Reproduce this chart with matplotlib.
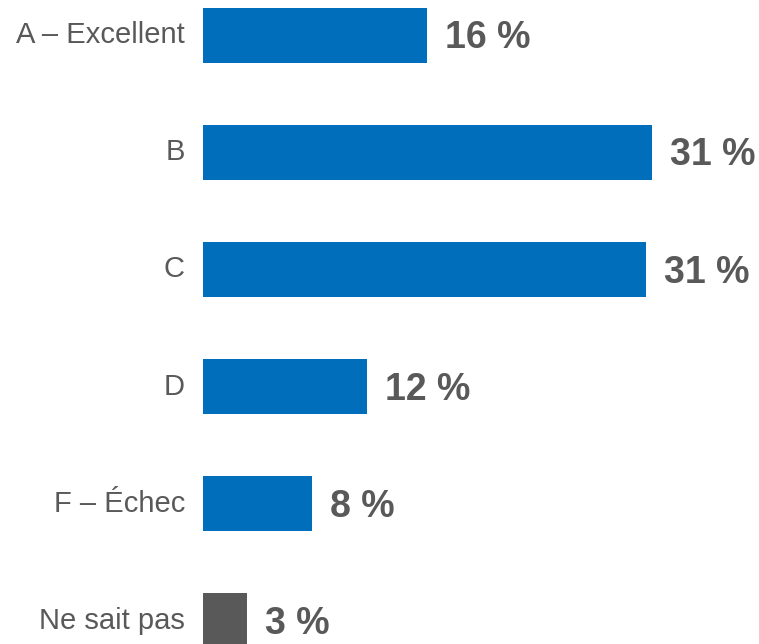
import matplotlib.pyplot as plt

plt.rcParams['font.family'] = ['Liberation Sans', 'DejaVu Sans']

categories = ['A – Excellent', 'B', 'C', 'D', 'F – Échec', 'Ne sait pas']
values = [15.7, 31.4, 31.0, 11.5, 7.6, 3.1]
labels = ['16 %', '31 %', '31 %', '12 %', '8 %', '3 %']
colors = ['#006EBA'] * 5 + ['#595959']

fig = plt.figure(figsize=(7.59, 6.44), dpi=100)
ax = fig.add_axes([203 / 759, 0, 556 / 759, 1])

pos = list(range(len(categories)))
bars = ax.barh(pos, values, height=0.47, color=colors)

# value labels, baseline a bit under the bar centre so digits sit centred
for b, lab in zip(bars, labels):
    ax.annotate(lab, (b.get_width(), b.get_y() + b.get_height() / 2),
                xytext=(13, -9.5), textcoords='offset points',
                ha='left', va='baseline', fontsize=27, fontweight='bold',
                color='#595959')

ax.set_xlim(0, 38.9)
ax.set_ylim(5.196, -0.299)
ax.set_yticks(pos)
ax.set_yticklabels(categories, fontsize=21, color='#595959')
ax.tick_params(axis='y', length=0, pad=13)
for t in ax.get_yticklabels():
    t.set_verticalalignment('center')
ax.set_xticks([])
for s in ax.spines.values():
    s.set_visible(False)

fig.savefig('out.png', dpi=100)
